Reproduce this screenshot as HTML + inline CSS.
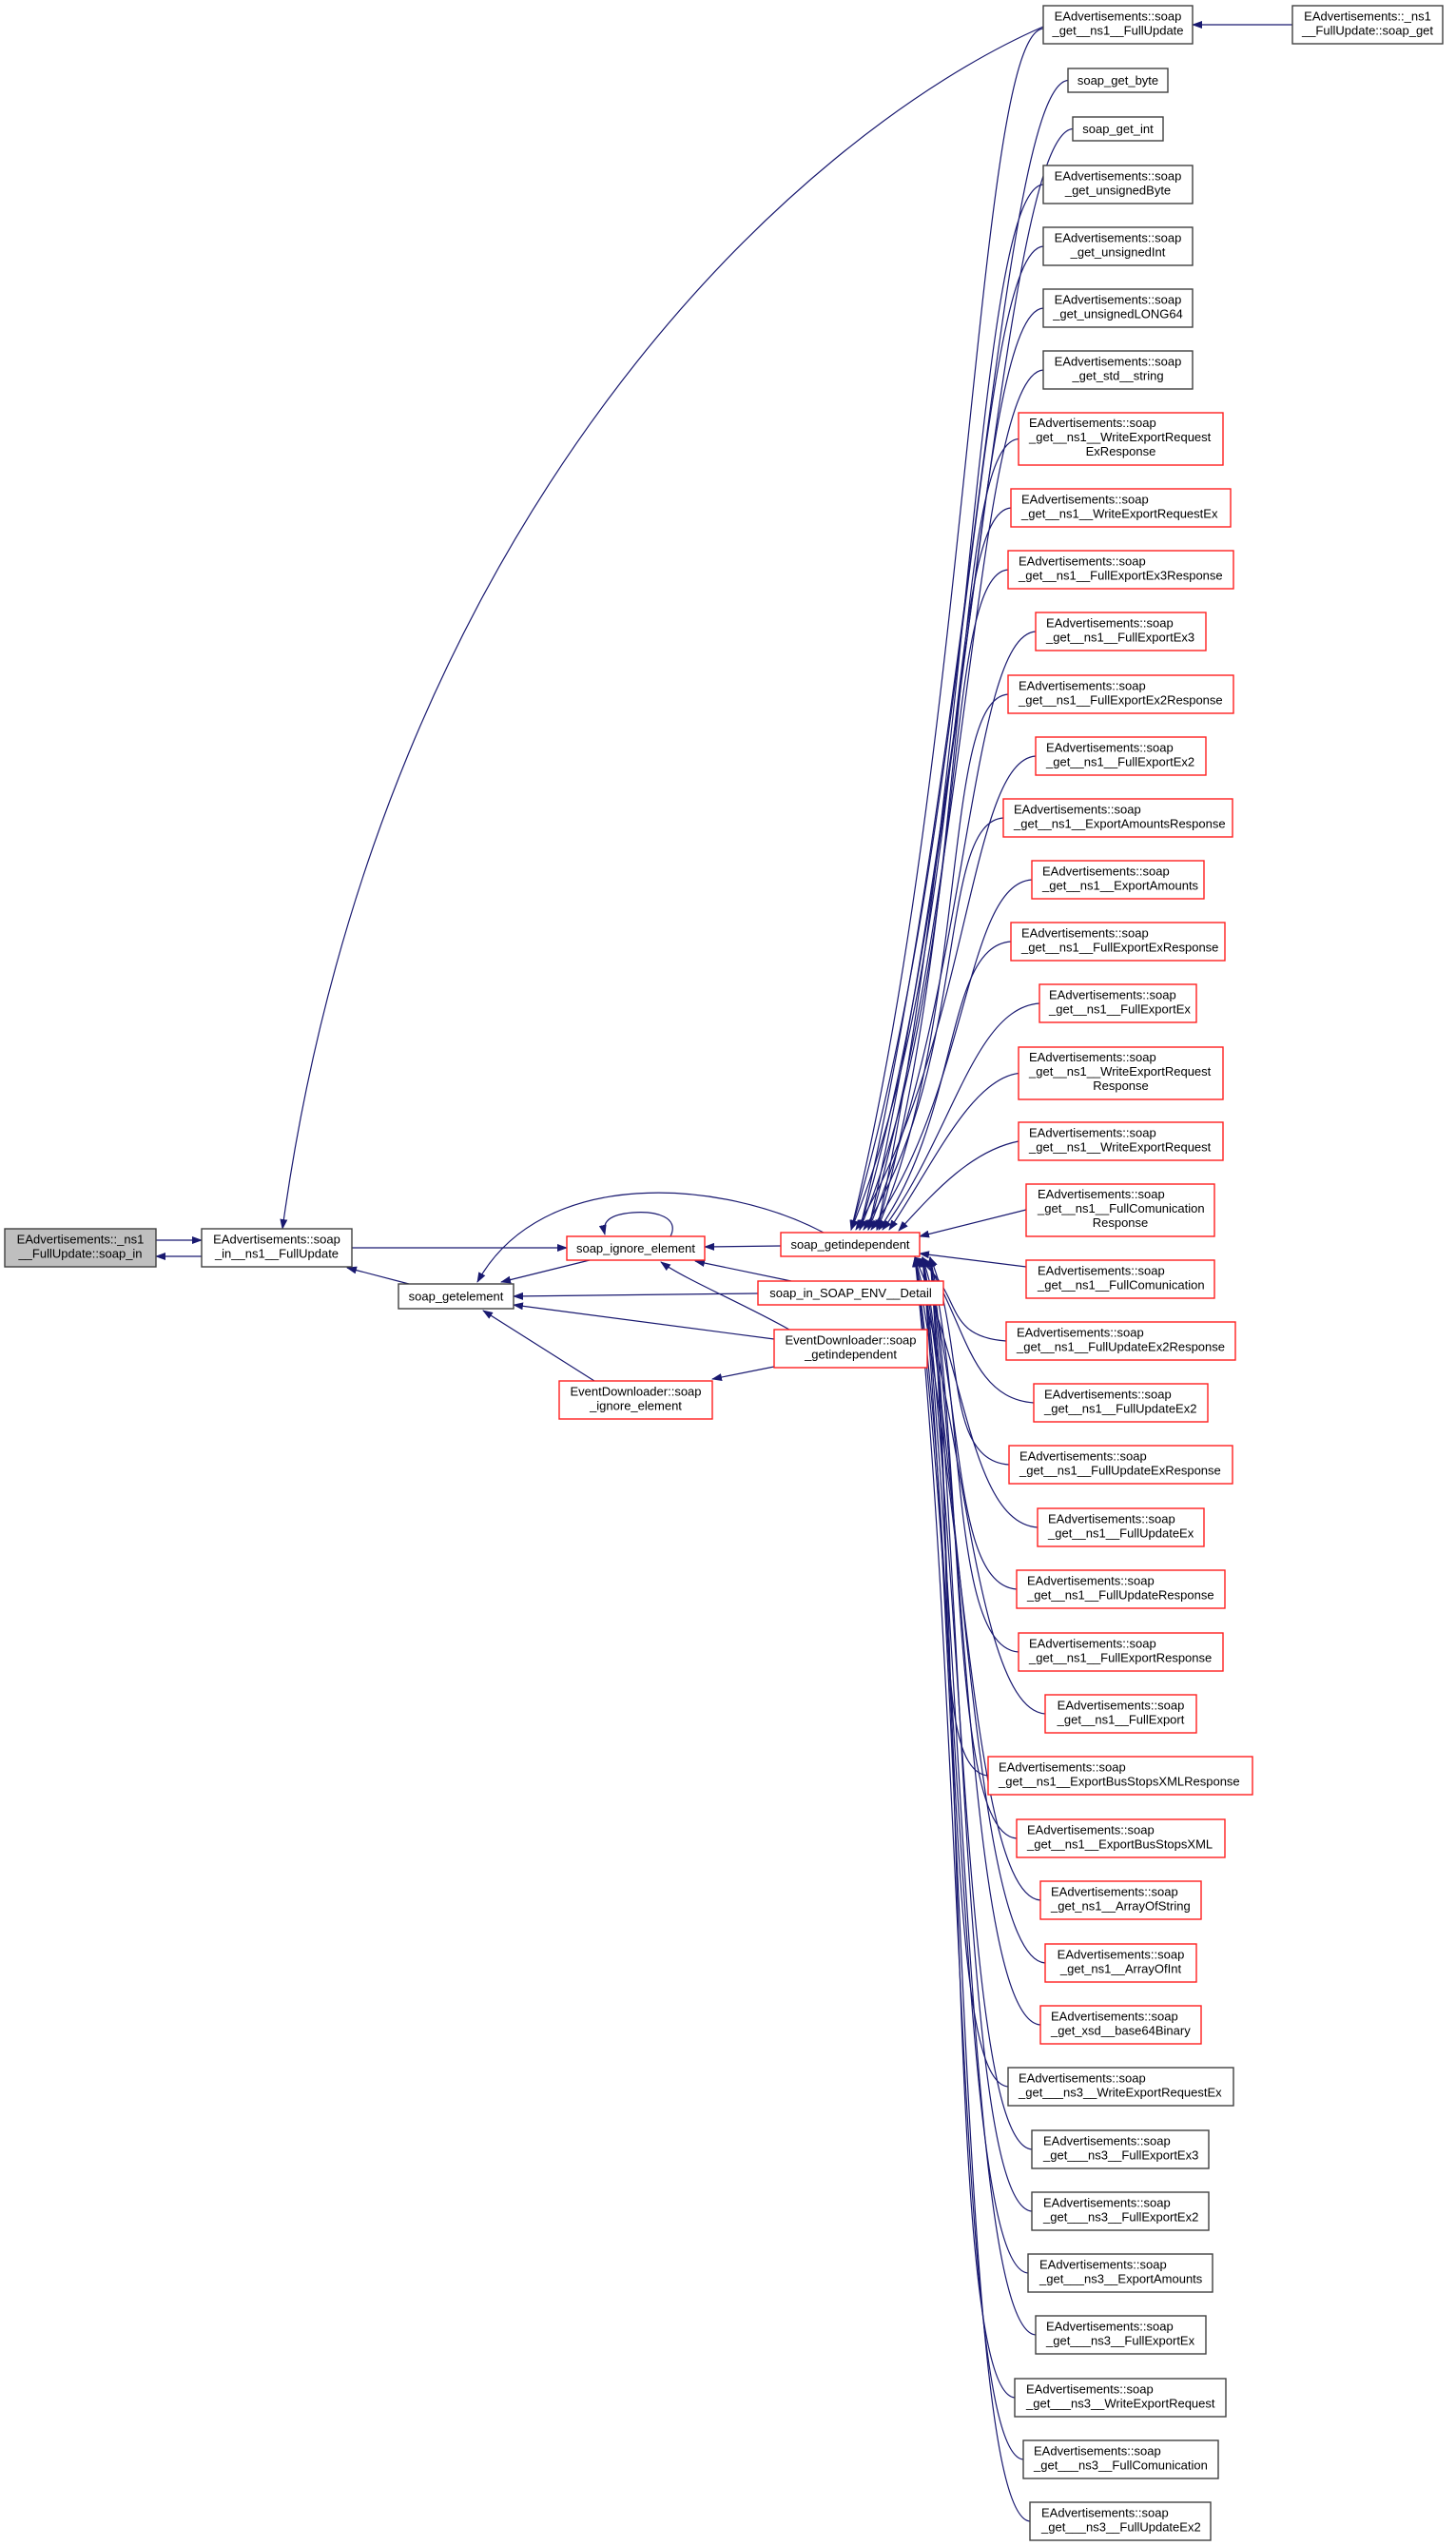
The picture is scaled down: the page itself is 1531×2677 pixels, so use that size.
<!DOCTYPE html>
<html><head><meta charset="utf-8"><style>
html,body{margin:0;padding:0;background:#fff}
svg{display:block}
text{font-family:"Liberation Sans",Arial,sans-serif;font-size:13px;fill:#000}
.k{fill:#fff;stroke:#404040;stroke-width:1.4}
.r{fill:#fff;stroke:#ff2020;stroke-width:1.4}
.e{fill:none;stroke:#191970;stroke-width:1.2}
</style></head><body>
<svg width="1531" height="2677" viewBox="0 0 1531 2677" xmlns="http://www.w3.org/2000/svg">
<defs><marker id="a" markerUnits="userSpaceOnUse" markerWidth="11" markerHeight="8" refX="10" refY="4" orient="auto"><path d="M0,0 L11,4 L0,8 z" fill="#191970"/></marker></defs>
<g class="e" marker-end="url(#a)">
<path d="M164 1304 L212 1304"/>
<path d="M212 1321 L164 1321"/>
<path d="M370 1312 L596 1312"/>
<path d="M430 1350 L365 1333"/>
<path d="M620 1325 L527 1348"/>
<path d="M821 1310 L741 1311"/>
<path d="M832 1347 L731 1326"/>
<path d="M797 1360 L540 1363"/>
<path d="M830 1398 C780 1370 720 1345 695 1327"/>
<path d="M814 1408 L540 1372"/>
<path d="M625 1452 L508 1378"/>
<path d="M814 1437 L749 1450"/>
<path d="M866 1296 C760 1240 570 1225 502 1348"/>
<path d="M705 1300 C715 1280 690 1273 665 1275 C640 1277 633 1285 636 1298"/>
<path d="M1097 28 C840 140 400 540 297 1292"/>
<path d="M1359 26 L1254 26"/>
<path d="M1097 30 C1027 35 1020 786 895 1293"/>
<path d="M1123 84.5 C1053 90 1020 810 904 1293"/>
<path d="M1128 135.5 C1058 140 1020 830 913 1293"/>
<path d="M1097 194 C1027 199 1020 853 922 1293"/>
<path d="M1097 259 C1027 264 1020 879 895 1293"/>
<path d="M1097 324 C1027 329 1020 905 904 1293"/>
<path d="M1097 389 C1027 394 1020 931 913 1293"/>
<path d="M1071 461.5 C1001 466 1020 960 922 1293"/>
<path d="M1063 534 C993 539 1020 989 895 1293"/>
<path d="M1060 599 C990 604 1020 1015 904 1293"/>
<path d="M1089 664 C1019 669 1020 1041 913 1293"/>
<path d="M1060 730 C990 735 1020 1068 922 1293"/>
<path d="M1089 795 C1019 800 1020 1094 900 1293"/>
<path d="M1055 860 C985 865 1020 1120 908 1293"/>
<path d="M1085 925 C1015 930 1020 1146 916 1293"/>
<path d="M1063 990 C993 995 1010 1172 924 1293"/>
<path d="M1093 1055 C1023 1060 1000 1198 928 1293"/>
<path d="M1071 1128.5 C1020 1135 980 1227 935 1293"/>
<path d="M1071 1200 C1020 1210 980 1256 945 1294"/>
<path d="M1079 1272 L967 1300"/>
<path d="M1079 1332 L967 1318"/>
<path d="M1058 1410 C988 1405 1015 1357 962 1322"/>
<path d="M1087 1475 C1017 1470 1015 1383 970 1322"/>
<path d="M1061 1540 C991 1535 1015 1409 978 1322"/>
<path d="M1091 1606 C1021 1601 1015 1436 962 1322"/>
<path d="M1069 1671 C999 1666 1015 1462 970 1322"/>
<path d="M1071 1737 C1001 1732 1015 1488 978 1322"/>
<path d="M1099 1802 C1029 1797 1015 1514 962 1322"/>
<path d="M1039 1867 C969 1862 1015 1540 970 1322"/>
<path d="M1069 1933 C999 1928 1015 1566 978 1322"/>
<path d="M1094 1998 C1024 1993 1015 1592 962 1322"/>
<path d="M1099 2064 C1029 2059 1015 1619 970 1322"/>
<path d="M1094 2129 C1024 2124 1015 1645 978 1322"/>
<path d="M1060 2194 C990 2189 1015 1671 962 1322"/>
<path d="M1085 2260 C1015 2255 1015 1697 970 1322"/>
<path d="M1085 2325 C1015 2320 1015 1723 978 1322"/>
<path d="M1081 2390 C1011 2385 1015 1749 962 1322"/>
<path d="M1089 2455 C1019 2450 1015 1775 970 1322"/>
<path d="M1067 2521 C997 2516 1015 1802 978 1322"/>
<path d="M1076 2586 C1006 2581 1015 1828 962 1322"/>
<path d="M1083 2651 C1013 2646 1015 1854 970 1322"/>
</g>

<rect x="5" y="1292" width="159" height="40" fill="#bfbfbf" stroke="#404040" stroke-width="1.4"/>
<text x="84.5" y="1307.5" text-anchor="middle">EAdvertisements::_ns1</text><text x="84.5" y="1322.5" text-anchor="middle">__FullUpdate::soap_in</text>
<rect class="k" x="212" y="1292" width="158" height="40"/>
<text x="291" y="1307.5" text-anchor="middle">EAdvertisements::soap</text><text x="291" y="1322.5" text-anchor="middle">_in__ns1__FullUpdate</text>
<rect class="k" x="419" y="1350" width="121" height="26"/><text x="479.5" y="1367.5" text-anchor="middle">soap_getelement</text>
<rect class="r" x="596" y="1300" width="145" height="25"/><text x="668.5" y="1317" text-anchor="middle">soap_ignore_element</text>
<rect class="r" x="821" y="1296" width="146" height="25"/><text x="894" y="1313" text-anchor="middle">soap_getindependent</text>
<rect class="r" x="797" y="1347" width="195" height="25"/><text x="894.5" y="1364" text-anchor="middle">soap_in_SOAP_ENV__Detail</text>
<rect class="r" x="814" y="1398" width="161" height="40"/><text x="894.5" y="1413.5" text-anchor="middle">EventDownloader::soap</text><text x="894.5" y="1428.5" text-anchor="middle">_getindependent</text>
<rect class="r" x="588" y="1452" width="161" height="40"/><text x="668.5" y="1467.5" text-anchor="middle">EventDownloader::soap</text><text x="668.5" y="1482.5" text-anchor="middle">_ignore_element</text>
<rect class="k" x="1359" y="6" width="158" height="40"/><text x="1438" y="21.5" text-anchor="middle">EAdvertisements::_ns1</text><text x="1438" y="36.5" text-anchor="middle">__FullUpdate::soap_get</text>

<rect class="k" x="1097" y="6" width="157" height="40"/><text x="1175.5" y="21.5" text-anchor="middle">EAdvertisements::soap</text><text x="1175.5" y="36.5" text-anchor="middle">_get__ns1__FullUpdate</text>
<rect class="k" x="1123" y="72" width="105" height="25"/><text x="1175.5" y="89" text-anchor="middle">soap_get_byte</text>
<rect class="k" x="1128" y="123" width="95" height="25"/><text x="1175.5" y="140" text-anchor="middle">soap_get_int</text>
<rect class="k" x="1097" y="174" width="157" height="40"/><text x="1175.5" y="189.5" text-anchor="middle">EAdvertisements::soap</text><text x="1175.5" y="204.5" text-anchor="middle">_get_unsignedByte</text>
<rect class="k" x="1097" y="239" width="157" height="40"/><text x="1175.5" y="254.5" text-anchor="middle">EAdvertisements::soap</text><text x="1175.5" y="269.5" text-anchor="middle">_get_unsignedInt</text>
<rect class="k" x="1097" y="304" width="157" height="40"/><text x="1175.5" y="319.5" text-anchor="middle">EAdvertisements::soap</text><text x="1175.5" y="334.5" text-anchor="middle">_get_unsignedLONG64</text>
<rect class="k" x="1097" y="369" width="157" height="40"/><text x="1175.5" y="384.5" text-anchor="middle">EAdvertisements::soap</text><text x="1175.5" y="399.5" text-anchor="middle">_get_std__string</text>

<rect class="r" x="1071" y="434" width="215" height="55"/><text x="1082" y="449">EAdvertisements::soap</text><text x="1082" y="464">_get__ns1__WriteExportRequest</text><text x="1178.5" y="479" text-anchor="middle">ExResponse</text>
<rect class="r" x="1063" y="514" width="231" height="40"/><text x="1074" y="529.5">EAdvertisements::soap</text><text x="1074" y="544.5">_get__ns1__WriteExportRequestEx</text>
<rect class="r" x="1060" y="579" width="237" height="40"/><text x="1071" y="594.5">EAdvertisements::soap</text><text x="1071" y="609.5">_get__ns1__FullExportEx3Response</text>
<rect class="r" x="1089" y="644" width="179" height="40"/><text x="1100" y="659.5">EAdvertisements::soap</text><text x="1100" y="674.5">_get__ns1__FullExportEx3</text>
<rect class="r" x="1060" y="710" width="237" height="40"/><text x="1071" y="725.5">EAdvertisements::soap</text><text x="1071" y="740.5">_get__ns1__FullExportEx2Response</text>
<rect class="r" x="1089" y="775" width="179" height="40"/><text x="1100" y="790.5">EAdvertisements::soap</text><text x="1100" y="805.5">_get__ns1__FullExportEx2</text>
<rect class="r" x="1055" y="840" width="241" height="40"/><text x="1066" y="855.5">EAdvertisements::soap</text><text x="1066" y="870.5">_get__ns1__ExportAmountsResponse</text>
<rect class="r" x="1085" y="905" width="181" height="40"/><text x="1096" y="920.5">EAdvertisements::soap</text><text x="1096" y="935.5">_get__ns1__ExportAmounts</text>
<rect class="r" x="1063" y="970" width="225" height="40"/><text x="1074" y="985.5">EAdvertisements::soap</text><text x="1074" y="1000.5">_get__ns1__FullExportExResponse</text>
<rect class="r" x="1093" y="1035" width="165" height="40"/><text x="1103" y="1050.5">EAdvertisements::soap</text><text x="1103" y="1065.5">_get__ns1__FullExportEx</text>
<rect class="r" x="1071" y="1101" width="215" height="55"/><text x="1082" y="1116">EAdvertisements::soap</text><text x="1082" y="1131">_get__ns1__WriteExportRequest</text><text x="1178.5" y="1146" text-anchor="middle">Response</text>
<rect class="r" x="1071" y="1180" width="215" height="40"/><text x="1082" y="1195.5">EAdvertisements::soap</text><text x="1082" y="1210.5">_get__ns1__WriteExportRequest</text>
<rect class="r" x="1079" y="1245" width="198" height="55"/><text x="1091" y="1260">EAdvertisements::soap</text><text x="1091" y="1275">_get__ns1__FullComunication</text><text x="1178" y="1290" text-anchor="middle">Response</text>
<rect class="r" x="1079" y="1325" width="198" height="40"/><text x="1091" y="1340.5">EAdvertisements::soap</text><text x="1091" y="1355.5">_get__ns1__FullComunication</text>
<rect class="r" x="1058" y="1390" width="241" height="40"/><text x="1069" y="1405.5">EAdvertisements::soap</text><text x="1069" y="1420.5">_get__ns1__FullUpdateEx2Response</text>
<rect class="r" x="1087" y="1455" width="183" height="40"/><text x="1098" y="1470.5">EAdvertisements::soap</text><text x="1098" y="1485.5">_get__ns1__FullUpdateEx2</text>
<rect class="r" x="1061" y="1520" width="235" height="40"/><text x="1072" y="1535.5">EAdvertisements::soap</text><text x="1072" y="1550.5">_get__ns1__FullUpdateExResponse</text>
<rect class="r" x="1091" y="1586" width="175" height="40"/><text x="1102" y="1601.5">EAdvertisements::soap</text><text x="1102" y="1616.5">_get__ns1__FullUpdateEx</text>
<rect class="r" x="1069" y="1651" width="219" height="40"/><text x="1080" y="1666.5">EAdvertisements::soap</text><text x="1080" y="1681.5">_get__ns1__FullUpdateResponse</text>
<rect class="r" x="1071" y="1717" width="215" height="40"/><text x="1082" y="1732.5">EAdvertisements::soap</text><text x="1082" y="1747.5">_get__ns1__FullExportResponse</text>
<rect class="r" x="1099" y="1782" width="159" height="40"/><text x="1178.5" y="1797.5" text-anchor="middle">EAdvertisements::soap</text><text x="1178.5" y="1812.5" text-anchor="middle">_get__ns1__FullExport</text>
<rect class="r" x="1039" y="1847" width="278" height="40"/><text x="1050" y="1862.5">EAdvertisements::soap</text><text x="1050" y="1877.5">_get__ns1__ExportBusStopsXMLResponse</text>
<rect class="r" x="1069" y="1913" width="219" height="40"/><text x="1080" y="1928.5">EAdvertisements::soap</text><text x="1080" y="1943.5">_get__ns1__ExportBusStopsXML</text>
<rect class="r" x="1094" y="1978" width="169" height="40"/><text x="1105" y="1993.5">EAdvertisements::soap</text><text x="1105" y="2008.5">_get_ns1__ArrayOfString</text>
<rect class="r" x="1099" y="2044" width="159" height="40"/><text x="1178.5" y="2059.5" text-anchor="middle">EAdvertisements::soap</text><text x="1178.5" y="2074.5" text-anchor="middle">_get_ns1__ArrayOfInt</text>
<rect class="r" x="1094" y="2109" width="169" height="40"/><text x="1105" y="2124.5">EAdvertisements::soap</text><text x="1105" y="2139.5">_get_xsd__base64Binary</text>
<rect class="k" x="1060" y="2174" width="237" height="40"/><text x="1071" y="2189.5">EAdvertisements::soap</text><text x="1071" y="2204.5">_get___ns3__WriteExportRequestEx</text>
<rect class="k" x="1085" y="2240" width="186" height="40"/><text x="1097" y="2255.5">EAdvertisements::soap</text><text x="1097" y="2270.5">_get___ns3__FullExportEx3</text>
<rect class="k" x="1085" y="2305" width="186" height="40"/><text x="1097" y="2320.5">EAdvertisements::soap</text><text x="1097" y="2335.5">_get___ns3__FullExportEx2</text>
<rect class="k" x="1081" y="2370" width="194" height="40"/><text x="1093" y="2385.5">EAdvertisements::soap</text><text x="1093" y="2400.5">_get___ns3__ExportAmounts</text>
<rect class="k" x="1089" y="2435" width="179" height="40"/><text x="1100" y="2450.5">EAdvertisements::soap</text><text x="1100" y="2465.5">_get___ns3__FullExportEx</text>
<rect class="k" x="1067" y="2501" width="222" height="40"/><text x="1079" y="2516.5">EAdvertisements::soap</text><text x="1079" y="2531.5">_get___ns3__WriteExportRequest</text>
<rect class="k" x="1076" y="2566" width="205" height="40"/><text x="1087" y="2581.5">EAdvertisements::soap</text><text x="1087" y="2596.5">_get___ns3__FullComunication</text>
<rect class="k" x="1083" y="2631" width="190" height="40"/><text x="1095" y="2646.5">EAdvertisements::soap</text><text x="1095" y="2661.5">_get___ns3__FullUpdateEx2</text>
</svg>
</body></html>
